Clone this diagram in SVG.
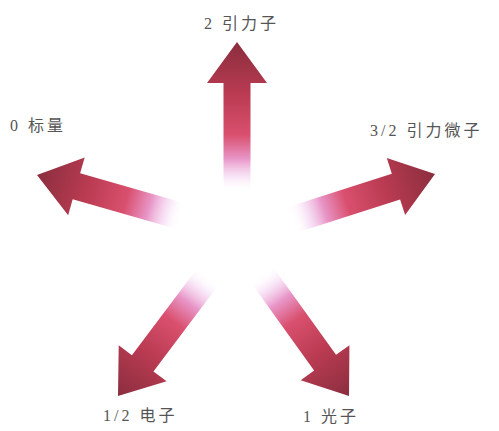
<svg xmlns="http://www.w3.org/2000/svg" xmlns:xlink="http://www.w3.org/1999/xlink" width="499" height="431" viewBox="0 0 499 431">
<style>
text{font-family:"Liberation Serif","Noto Sans CJK SC",serif;font-size:16px;letter-spacing:3px;fill:#555555}
</style>
<defs>
<linearGradient id="g" gradientUnits="userSpaceOnUse" x1="0" y1="0" x2="150" y2="0">
<stop offset="0" stop-color="#ffffff" stop-opacity="0"/>
<stop offset="0.1" stop-color="#f4d4f2" stop-opacity="0.6"/>
<stop offset="0.22" stop-color="#e896c8"/>
<stop offset="0.38" stop-color="#d9506e"/>
<stop offset="0.65" stop-color="#ba3b52"/>
<stop offset="1" stop-color="#8a2e3e"/>
</linearGradient>
<polygon id="arrow" points="0,-13.5 109,-13.5 109,-30 150,0 109,30 109,13.5 0,13.5" fill="url(#g)"/>
</defs>
<rect width="499" height="431" fill="#ffffff"/>
<g id="connectors">
<use id="a-up" xlink:href="#arrow" transform="translate(237,42) rotate(-90) translate(-150,0)"/>
<use id="a-left" xlink:href="#arrow" transform="translate(37,175) rotate(196) translate(-150,0)"/>
<use id="a-right" xlink:href="#arrow" transform="translate(435,174) rotate(-17.8) translate(-150,0)"/>
<use id="a-ll" xlink:href="#arrow" transform="translate(118,396) rotate(127) translate(-150,0)"/>
<use id="a-lr" xlink:href="#arrow" transform="translate(349,396) rotate(54.3) translate(-150,0)"/>
</g>
<g id="n-graviton"><text x="204" y="29">2 引力子</text></g>
<g id="n-scalar"><text x="10" y="131">0 标量</text></g>
<g id="n-gravitino"><text x="370" y="136">3/2 引力微子</text></g>
<g id="n-electron"><text x="103" y="421">1/2 电子</text></g>
<g id="n-photon"><text x="303" y="422">1 光子</text></g>
</svg>
